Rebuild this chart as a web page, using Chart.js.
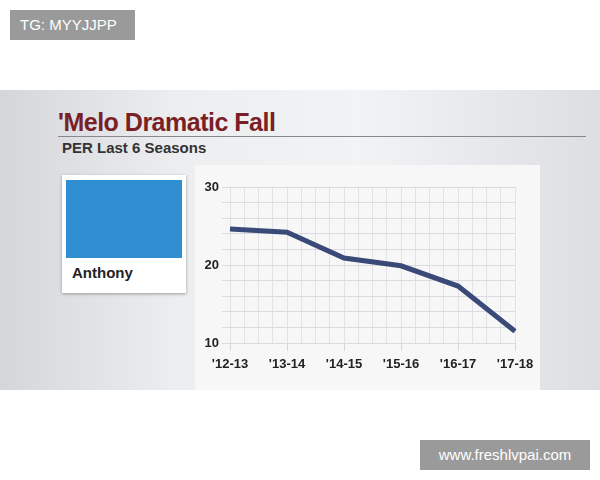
<!DOCTYPE html>
<html><head><meta charset="utf-8">
<script src="https://cdn.jsdelivr.net/npm/chart.js@4"></script>
<style>
body{margin:0;width:600px;height:480px;background:#fff;position:relative;overflow:hidden;font-family:"Liberation Sans",Arial,sans-serif}
#bg{position:absolute;left:0;top:90px;width:600px;height:300px;background:linear-gradient(90deg,#d4d6da 0%,#eceef0 30%,#f2f3f5 60%,#dcdee2 100%)}
#panel{position:absolute;left:195px;top:165px;width:345px;height:225px;background:#f7f7f8}
.t{position:absolute;white-space:nowrap}
canvas{position:absolute;left:0;top:0}
</style></head><body>
<div id="bg"></div>
<div id="panel"></div>
<div class="t" style="left:10px;top:10px;width:125px;height:30px;background:#9a9a9a;color:#fff;font-size:15px;line-height:30px;padding-left:10px;box-sizing:border-box">TG: MYYJJPP</div>
<div class="t" style="left:58px;top:108px;font-size:25px;font-weight:bold;color:#7a1f26;letter-spacing:-0.5px">'Melo Dramatic Fall</div>
<div class="t" style="left:58px;top:136px;width:528px;border-top:1px solid #888"></div>
<div class="t" style="left:62px;top:139px;font-size:15px;font-weight:bold;color:#333">PER Last 6 Seasons</div>
<div class="t" style="left:62px;top:175px;width:124px;height:118px;background:#fff;box-shadow:0 1px 3px #999"></div>
<div class="t" style="left:66px;top:180px;width:116px;height:78px;background:#2f8fd0"></div>
<div class="t" style="left:72px;top:264px;font-size:15px;font-weight:bold;color:#222">Anthony</div>
<div class="t" style="left:420px;top:440px;width:170px;height:30px;background:#9a9a9a;color:#fff;font-size:15px;line-height:30px;text-align:center">www.freshlvpai.com</div>
<canvas id="c" width="600" height="480"></canvas>
<script>
const seasons=["'12-13","'13-14","'14-15","'15-16","'16-17","'17-18"];
const per=[24.6,24.2,20.9,19.9,17.3,11.5];
const yTicks=[10,20,30];
new Chart(document.getElementById('c'),{type:'line',
data:{labels:seasons,datasets:[{data:per,borderColor:'#3a4a78',borderWidth:5,pointRadius:0,tension:0,xAxisID:'x',yAxisID:'y'}]},
options:{responsive:false,animation:false,events:[],
layout:{padding:{left:195,top:187,right:85,bottom:112}},
plugins:{legend:{display:false},tooltip:{enabled:false}},
scales:{
x:{offset:false,border:{display:false},grid:{color:'#d8d8dc'},
 ticks:{color:'#222',font:{size:13,weight:'bold',family:'Liberation Sans'},padding:6,maxRotation:0},
 afterFit:s=>{s.height=25;}},
x2:{type:'linear',min:0,max:5,position:'top',border:{display:false},
 grid:{color:'#e2e2e6',drawTicks:false},ticks:{stepSize:0.25,autoSkip:false,color:'rgba(0,0,0,0)',font:{size:1}},afterFit:s=>{s.height=0;}},
y:{min:10,max:30,border:{display:false},grid:{color:'#dcdce0'},
 ticks:{stepSize:2,autoSkip:false,color:'#222',font:{size:13,weight:'bold',family:'Liberation Sans'},
  callback:v=>yTicks.includes(v)?v:''},
 afterFit:s=>{s.width=35;}}
}}});
</script>
</body></html>
